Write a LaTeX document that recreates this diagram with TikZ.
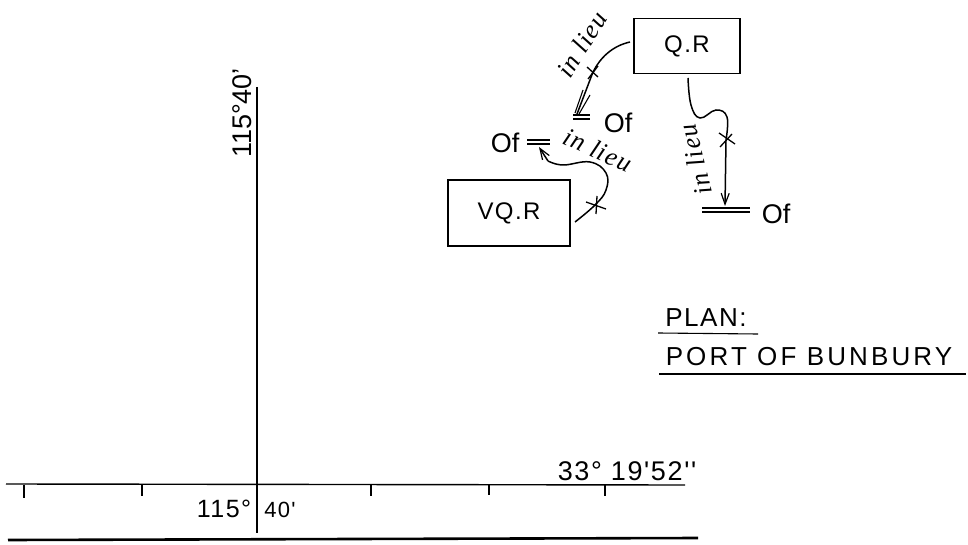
\documentclass[tikz,border=0pt]{standalone}
\usepackage{fontspec}
\setmainfont{Liberation Sans}
\newfontfamily\hand[LetterSpace=6]{Liberation Sans}
\newfontfamily\handwide[LetterSpace=12]{Liberation Sans}
\newfontfamily\cursive[LetterSpace=5]{Liberation Serif}
\usetikzlibrary{arrows.meta}
\tikzset{
  x=1pt,y=-1pt,
  ink/.style={line width=1.1pt,black},
  axisline/.style={line width=1.4pt,black},
  boxnode/.style={draw,line width=1.5pt,inner sep=0pt,font=\fontsize{24}{24}\selectfont\hand},
  lab/.style={inner sep=0pt,anchor=center},
  ofl/.style={inner sep=0pt,font=\fontsize{27}{27}\selectfont},
  lieu/.style={inner sep=0pt,font=\fontsize{26}{26}\selectfont\cursive\itshape},
  conn/.style={line width=1.5pt,black},
  tip/.style={-{Straight Barb[length=11pt,width=8pt,line width=1.2pt]}},
  cross/.style={line width=1.3pt,black}
}
\begin{document}
\begin{tikzpicture}
\useasboundingbox (0,0) rectangle (968,545);
% axes
\coordinate (vtop) at (257,87); \coordinate (vbot) at (257,533);
\coordinate (hl) at (6,484); \coordinate (hr) at (685,485);
\draw[axisline] (vtop) -- (vbot);
\draw[axisline] (hl) -- (hr);
\foreach \x/\l in {24/13,142/11,371/11,489/10,605/11}{
  \coordinate (ta) at (\x,485); \coordinate (tb) at (\x,485+\l);
  \draw[ink] (ta) -- (tb);
}
\coordinate (bl) at (8,540); \coordinate (br) at (698,538);
\draw[line width=2.6pt] (bl) -- (br);
% axis labels
\node[lab,rotate=90,font=\fontsize{27}{27}\selectfont] (lat) at (242,113) {115°40'};
\node[lab,font=\fontsize{25}{25}\selectfont\hand] (lona) at (224,509) {115°};
\node[lab,font=\fontsize{22}{22}\selectfont\hand] (lonb) at (280,510) {40'};
\node[lab,font=\fontsize{27}{27}\selectfont\hand] (coord) at (627,471) {33° 19'52''};
% title
\node[lab,font=\fontsize{26}{26}\selectfont\hand] (plan) at (706,318) {PLAN:};
\draw[ink] (658,333) -- (758,334);
\node[lab,font=\fontsize{26}{26}\selectfont\handwide] (port) at (809,357) {PORT OF BUNBURY};
\draw[ink] (659,374) -- (966,374);
% boxes
\node[boxnode,minimum width=106pt,minimum height=55pt] (qr) at (687,46) {Q.R};
\node[boxnode,minimum width=122pt,minimum height=66pt] (vqr) at (509,213) {VQ.R};
% free ends
\coordinate (qa) at (630,42); \coordinate (qb) at (577,114);
\coordinate (qc) at (688,78); \coordinate (qd) at (725,206);
\coordinate (va) at (575,222); \coordinate (vb) at (539,147);
% Of bars
\draw[ink] (573,115) -- (590,115) (573,119) -- (590,119);
\draw[ink] (527,140) -- (550,140) (527,144) -- (550,144);
\draw[ink] (702,208) -- (750,208) (702,212) -- (750,212);
\node[ofl] (of1) at (618,123) {Of};
\node[ofl] (of2) at (505,143) {Of};
\node[ofl] (of3) at (776,214) {Of};
% connectors
\draw[conn] (qa) .. controls (612,46) and (600,58) .. (593,72) -- (qb);
\draw[ink] (590,95) -- (579,114) (583,90) -- (575,113);
\draw[conn] plot[smooth,tension=0.7] coordinates {(qc) (691,105) (700,118) (716,110) (727,117) (726,140)};
\draw[conn,tip] (726,140) -- (qd);
\draw[conn] plot[smooth,tension=0.7] coordinates {(va) (595,205) (606,190) (606,173) (590,162) (563,165) (548,161)};
\coordinate (vc) at (548,161);
\draw[conn,tip] (vc) -- (vb);
% crosses
\draw[cross] (587,67) -- (598,77) (598,66) -- (588,79);
\draw[cross] (719,133) -- (735,144) (732,134) -- (720,147);
\draw[cross] (586,202) -- (606,209) (597,196) -- (596,214);
% hand labels
\node[lieu,rotate=58] (l1) at (582,44) {in lieu};
\node[lieu,rotate=-24] (l2) at (598,150) {in lieu};
\node[lieu,rotate=104] (l3) at (695,160) {in lieu};
\end{tikzpicture}
\end{document}
